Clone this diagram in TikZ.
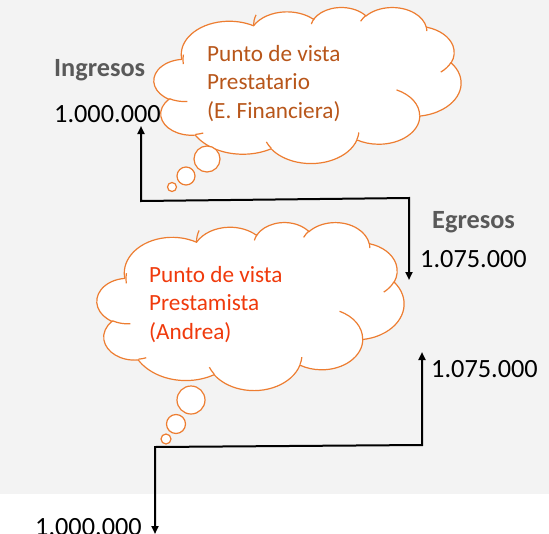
\documentclass[tikz,border=0pt]{standalone}
\usepackage{fontspec}
\setmainfont{Carlito}
\usetikzlibrary{arrows.meta}
\definecolor{bggray}{HTML}{F3F3F3}
\definecolor{cloudline}{HTML}{ED7D31}
\definecolor{txtbrown}{HTML}{B8561A}
\definecolor{txtred}{HTML}{F03A0C}
\definecolor{lblgray}{HTML}{595959}
\tikzset{
  cloudshape/.style={draw=cloudline, fill=white, line width=1.2pt},
  cloudinner/.style={draw=cloudline, line width=1.2pt},
  flowline/.style={draw=black, line width=2pt},
  tipstyle/.style={{Triangle[length=8pt,width=7pt]}-{Triangle[length=8pt,width=7pt]}},
  lbl/.style={inner sep=0pt, anchor=base west, font=\fontsize{26.3}{31}\selectfont},
  lblbold/.style={lbl, font=\fontsize{26.3}{31}\selectfont\bfseries, text=lblgray},
  cloudtext/.style={inner sep=0pt, anchor=base west, font=\fontsize{23.2}{28}\selectfont}
}
% PowerPoint-like cloud in a 432 x 432 box: #1,#2 top-left, #3,#4 unit scales
\newcommand\pptcloud[4]{%
  \begin{scope}[shift={(#1,#2)}, x=#3pt, y=-#4pt]
    \draw[cloudshape] (39,143.7)
      arc[start angle=-187.75, delta angle=128.11, x radius=67.53, y radius=91.90]
      arc[start angle=-152.02, delta angle=106.57, x radius=53.33, y radius=72.67]
      arc[start angle=-153.49, delta angle=116.14, x radius=43.65, y radius=59.45]
      arc[start angle=-139.71, delta angle=129.50, x radius=48.57, y radius=65.95]
      arc[start angle=-74.77, delta angle=97.98, x radius=53.33, y radius=72.73]
      arc[start angle=-37.54, delta angle=119.40, x radius=67.75, y radius=92.20]
      arc[start angle=0.46, delta angle=121.52, x radius=57.85, y radius=78.67]
      arc[start angle=16.84, delta angle=129.38, x radius=67.52, y radius=92.15]
      arc[start angle=58.99, delta angle=91.19, x radius=77.20, y radius=105.43]
      arc[start angle=-276.69, delta angle=139.80, x radius=43.60, y radius=59.18]
      arc[start angle=-239.65, delta angle=143.76, x radius=43.45, y radius=59.45]
      -- cycle;
    \draw[cloudinner]
      (46.93,261.77) arc[start angle=85.55, delta angle=34.80, x radius=43.45, y radius=59.45]
      (69.28,348.99) arc[start angle=68.24, delta angle=15.07, x radius=43.60, y radius=59.18]
      (164.78,390.90) arc[start angle=146.22, delta angle=12.25, x radius=67.52, y radius=92.15]
      (288.27,347.51) arc[start angle=4.74, delta angle=12.10, x radius=67.52, y radius=92.15]
      (341.29,229.54) arc[start angle=-64.03, delta angle=64.49, x radius=57.85, y radius=78.67]
      (417.98,153.54) arc[start angle=23.21, delta angle=26.44, x radius=53.33, y radius=72.73]
      (383.24,54.26) arc[start angle=-10.21, delta angle=11.03, x radius=48.57, y radius=65.95]
      (290.78,39.52) arc[start angle=-156.30, delta angle=16.59, x radius=48.57, y radius=65.95]
      (221.41,47.20) arc[start angle=-167.73, delta angle=15.80, x radius=43.65, y radius=59.45]
      (140.00,51.92) arc[start angle=-180.28, delta angle=19.18, x radius=67.53, y radius=91.90]
      (41.27,157.89) arc[start angle=-187.75, delta angle=16.38, x radius=67.53, y radius=91.90];
  \end{scope}}
\begin{document}
\begin{tikzpicture}[x=1pt, y=-1pt]
  \useasboundingbox (0,0) rectangle (549,533);
  \fill[white] (0,0) rectangle (549,533);
  \fill[bggray] (0,0) rectangle (549,494);

  % connector coordinates
  \coordinate (inTip) at (141,126);
  \coordinate (inCorner) at (141,201);
  \coordinate (egCorner) at (409,198);
  \coordinate (egTip) at (409,280);
  \coordinate (prTip) at (422,352);
  \coordinate (prCorner) at (422,445);
  \coordinate (psCorner) at (155,447);
  \coordinate (psTip) at (155,534);

  \draw[flowline, tipstyle] (inTip) -- (inCorner) -- (egCorner) -- (egTip);
  \draw[flowline, tipstyle] (prTip) -- (prCorner) -- (psCorner) -- (psTip);

  % clouds
  \pptcloud{154}{7}{0.71065}{0.36111}
  \draw[cloudshape] (207,159) circle[radius=13];
  \draw[cloudshape] (186,176) circle[radius=9];
  \draw[cloudshape] (172,187) circle[radius=4.5];

  \pptcloud{97}{222}{0.71065}{0.38889}
  \draw[cloudshape] (191,400) circle[radius=14];
  \draw[cloudshape] (176,424) circle[radius=9.5];
  \draw[cloudshape] (166,439) circle[radius=5];

  % cloud texts
  \node[cloudtext, text=txtbrown] (ta) at (207,61) {Punto de vista};
  \node[cloudtext, text=txtbrown] (tb) at (207,89.5) {Prestatario};
  \node[cloudtext, text=txtbrown] (tc) at (207,118) {(E. Financiera)};
  \node[cloudtext, text=txtred] (ba) at (149,282) {Punto de vista};
  \node[cloudtext, text=txtred] (bb) at (149,310.5) {Prestamista};
  \node[cloudtext, text=txtred] (bc) at (149,339) {(Andrea)};

  % labels
  \node[lblbold] (ingresos) at (54,76) {Ingresos};
  \node[lbl] (inval) at (54,122) {1.000.000};
  \node[lblbold] (egresos) at (432,228) {Egresos};
  \node[lbl] (egval) at (420,267) {1.075.000};
  \node[lbl] (prval) at (431,377) {1.075.000};
  \node[lbl] (psval) at (35,535) {1.000.000};
\end{tikzpicture}
\end{document}
